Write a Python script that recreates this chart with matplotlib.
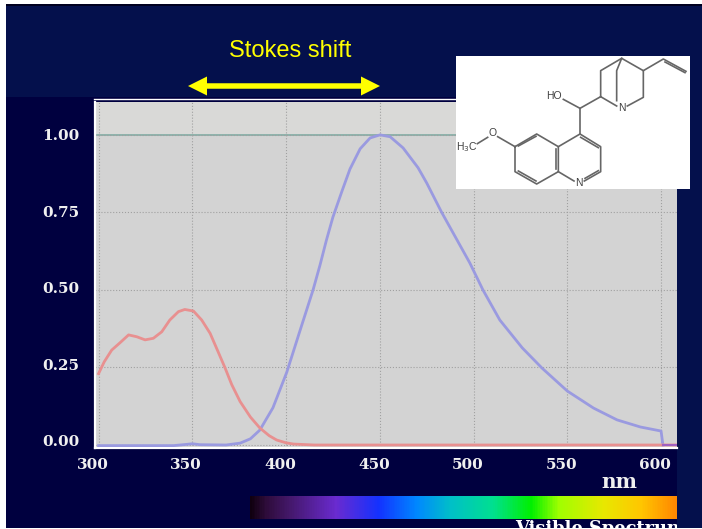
import numpy as np
import matplotlib
matplotlib.use('Agg')
import matplotlib.pyplot as plt
from matplotlib.colors import LinearSegmentedColormap
from matplotlib.patches import Rectangle, FancyArrow
from matplotlib.transforms import ScaledTranslation

# absorption curve
red_nm = [300, 303, 307, 311.5, 316, 320.4, 324.8, 329.2, 333.7, 338, 342.6, 346, 350.6, 355, 359.5, 363.8, 367.5, 371, 375.5, 381, 386, 391, 395, 400, 404, 415, 450, 500, 550, 608]
red_val = [0.23, 0.268, 0.306, 0.33, 0.355, 0.349, 0.339, 0.344, 0.365, 0.403, 0.43, 0.437, 0.432, 0.403, 0.36, 0.30, 0.248, 0.195, 0.14, 0.09, 0.055, 0.03, 0.016, 0.007, 0.003, 0, 0, 0, 0, 0]

# emission curve
blue_nm = [300, 340, 347, 350, 354, 368, 375.5, 381, 386, 393, 400.4, 407.5, 414.4, 418.1, 421.5, 425, 429.9, 434.1, 439.5, 444.8, 450.1, 455.5, 462.4, 470.4, 475, 483, 498, 505, 514, 526, 536.5, 550, 564, 576.5, 589, 600, 601]
blue_val = [-0.002, -0.002, 0.002, 0.004, 0.001, 0.0, 0.006, 0.02, 0.048, 0.12, 0.235, 0.37, 0.50, 0.58, 0.66, 0.735, 0.82, 0.89, 0.955, 0.99, 1.0, 0.994, 0.958, 0.894, 0.845, 0.75, 0.587, 0.50, 0.403, 0.313, 0.248, 0.174, 0.119, 0.081, 0.058, 0.045, 0.0]

end_nm = [601, 608]
end_val = [0, 0]

x_ticks = [300, 350, 400, 450, 500, 550, 600]
y_ticks = [0.0, 0.25, 0.5, 0.75, 1.0]
y_labels = ['0.00', '0.25', '0.50', '0.75', '1.00']

# colours along the spectrum bar, from the picture
bar_stops = [0, 0.035, 0.09, 0.2, 0.3, 0.39, 0.47, 0.57, 0.66, 0.725, 0.83, 0.915, 1]
bar_colors = ['#100010', '#2e0c3a', '#44186a', '#6a2bd0', '#1432ff', '#0088ff', '#00c0c8', '#00e090', '#00f000', '#a0ff00', '#e8e800', '#ffc800', '#ff8800']

# molecule drawing, in pixels of the picture
bonds = [
    [(495, 440), (560, 402), (625, 440), (625, 515), (560, 552), (495, 515), (495, 440)],
    [(625, 440), (690, 402), (752, 440), (752, 515), (703, 543)],
    [(625, 515), (672, 543)],
    [(505, 438), (558, 409)], [(505, 513), (558, 543)], [(617, 447), (617, 508)],
    [(692, 412), (745, 443)], [(705, 535), (745, 512)],
    [(495, 440), (443, 410)], [(413, 412), (382, 431)],
    [(690, 402), (690, 325), (640, 298)], [(690, 325), (752, 290)],
    [(752, 290), (752, 212), (815, 175), (880, 212), (880, 292), (832, 318)],
    [(752, 290), (800, 318)], [(815, 175), (800, 212), (800, 302)],
    [(880, 212), (940, 177), (1008, 214)], [(945, 186), (1005, 218)],
]
atoms = [('O', 428, 398), ('H$_3$C', 350, 440), ('HO', 613, 287), ('N', 815, 323), ('N', 686, 550)]

fig = plt.figure(figsize=(7.02, 5.29), dpi=100, facecolor='white')

# background layer in pixel coordinates
deco = fig.add_axes([0, 0, 1, 1], zorder=0)
deco.axis('off')
deco.add_patch(Rectangle((6, 4), 696, 524, color='#00003f', lw=0))
deco.add_patch(Rectangle((6, 4), 696, 93, color='#04104c', lw=0))
deco.add_patch(Rectangle((677, 4), 25, 524, color='#04104c', lw=0))
deco.add_patch(Rectangle((6, 4), 696, 1.5, color='#000020', lw=0))

cmap = LinearSegmentedColormap.from_list('spectrum', list(zip(bar_stops, bar_colors)))
deco.imshow(np.linspace(0, 1, 427).reshape(1, -1), cmap=cmap, aspect='auto', extent=(250, 677, 519, 496), zorder=2)
deco.set_xlim(0, 702)
deco.set_ylim(529, 0)

vis = deco.text(515, 520.5, 'Visible Spectrum', color='white', fontsize=12.8, fontweight='bold',
                family='DejaVu Serif', va='top', ha='left', clip_on=True)
vis.set_clip_path(Rectangle((510, 515), 167, 14, transform=deco.transData))

deco.text(290, 51, 'Stokes shift', color='#ffff00', fontsize=17, family='Liberation Sans', ha='center', va='center')
deco.plot([94, 677], [99.3, 99.3], color='white', lw=1.0)

# main plot
ax = fig.add_axes([95 / 702, 1 - 448 / 529, 582 / 702, 346 / 529], zorder=1)
ax.set_xlim(298.1, 608.5)
ax.set_ylim(-0.0097, 1.106)
ax.set_facecolor('#d3d3d3')
ax.axhspan(1.0, 1.106, color='#d9d9d7', lw=0, zorder=0)

for s in ['top', 'right']:
    ax.spines[s].set_visible(False)
for s in ['left', 'bottom']:
    ax.spines[s].set_color('white')
    ax.spines[s].set_linewidth(1.6)

ax.set_xticks(x_ticks)
ax.set_yticks(y_ticks)
ax.set_yticklabels(y_labels)
ax.tick_params(length=0, colors='white', labelsize=11)
ax.tick_params(axis='x', pad=7)
ax.tick_params(axis='y', pad=11)
for t in ax.get_xticklabels() + ax.get_yticklabels():
    t.set_family('DejaVu Serif')
    t.set_fontweight('bold')
    t.set_color('#f0f0f0')
# the labels sit a little off the grid lines in the original
for t in ax.get_xticklabels():
    t.set_transform(t.get_transform() + ScaledTranslation(-6 / 100, 0, fig.dpi_scale_trans))
for t, v in zip(ax.get_yticklabels(), y_ticks):
    t.set_transform(t.get_transform() + ScaledTranslation(0, 4 * (1 - v) / 100, fig.dpi_scale_trans))

ax.grid(True, color='#a0a0a0', lw=0.8, ls=':')
ax.axhline(1.0, color='#7ba8a0', lw=1.1, zorder=1.5)

ax.plot(blue_nm, blue_val, color='#9a9ae0', lw=2.0, zorder=3)
ax.plot(red_nm, red_val, color='#e89090', lw=2.0, zorder=4)
ax.plot(end_nm, end_val, color='#a060c0', lw=1.5, zorder=5)
ax.set_xlabel('nm', color='#f0f0f0', fontsize=14.5, fontweight='bold', family='DejaVu Serif', va='center')
ax.xaxis.set_label_coords((619 - 95) / 582, -34 / 346)

# top layer: arrow and molecule
top = fig.add_axes([0, 0, 1, 1], zorder=2)
top.set_xlim(0, 702)
top.set_ylim(529, 0)
top.axis('off')
top.add_patch(FancyArrow(284, 86, -96, 0, width=5.5, head_width=19, head_length=19,
                         length_includes_head=True, color='#ffff00', lw=0))
top.add_patch(FancyArrow(284, 86, 96, 0, width=5.5, head_width=19, head_length=19,
                         length_includes_head=True, color='#ffff00', lw=0))
top.add_patch(Rectangle((456, 56), 234, 133, color='white', lw=0))

for b in bonds:
    xs = [350 + p[0] / 3 for p in b]
    ys = [p[1] / 3 for p in b]
    top.plot(xs, ys, color='#666666', lw=1.2)
for name, zx, zy in atoms:
    top.text(350 + zx / 3, zy / 3, name, color='#404040', fontsize=7.5, family='Liberation Sans', ha='center', va='center')

fig.savefig('out.png', dpi=100, facecolor=fig.get_facecolor())
